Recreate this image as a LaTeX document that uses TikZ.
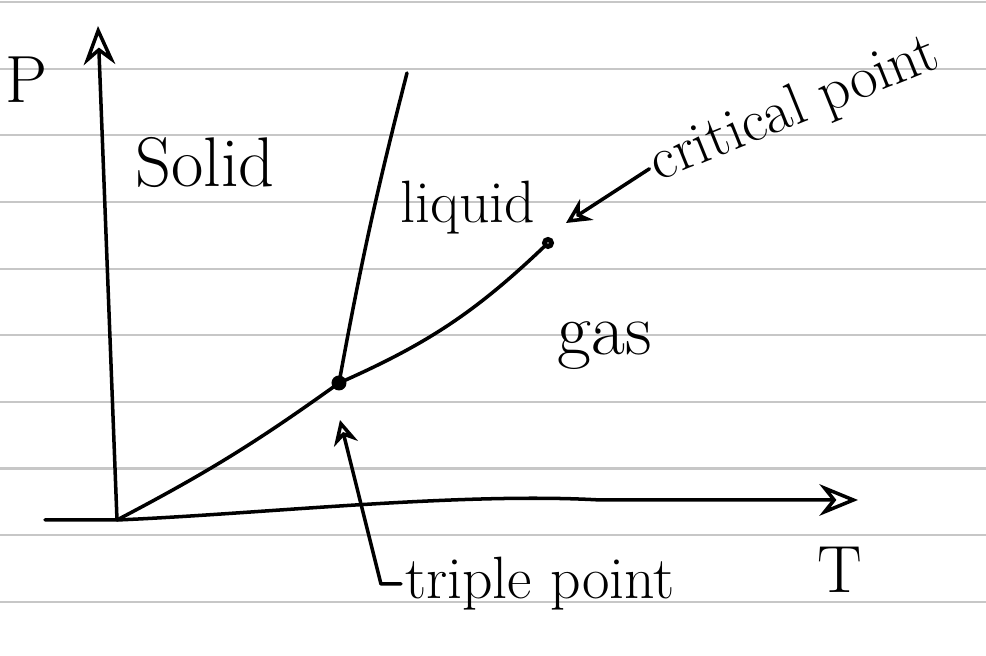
\documentclass[tikz,border=0pt]{standalone}
\usepackage{tikz}
\usetikzlibrary{arrows.meta}
\begin{document}
\begin{tikzpicture}[ink/.style={line width=1pt, line cap=round, line join=round},
    axis/.style={ink, -{Stealth[open, length=11pt, width=9pt]}},
    pointer/.style={ink, -{Stealth[open, length=7pt, width=7pt]}},
    hand/.style={font=\fontsize{17}{19}\selectfont, inner sep=1pt}]
    \useasboundingbox (0,0) rectangle (9.86,6.56);
    \foreach \i in {0,...,9} \draw[black!22, line width=0.6pt] (0,6.54-0.6665*\i) -- (9.86,6.54-0.6665*\i);

    \coordinate (Tstart) at (0.45,1.36);
    \coordinate (O) at (1.17,1.36);
    \coordinate (Ptip) at (0.98,6.30);
    \coordinate (Ttip) at (8.58,1.56);
    \coordinate (tp) at (3.39,2.73);
    \coordinate (melt) at (4.07,5.83);
    \coordinate (cp) at (5.48,4.13);
    \coordinate (cparrow) at (5.66,4.33);
    \coordinate (tparrow) at (3.40,2.36);

    \draw[axis] (O) -- (Ptip);
    \draw[axis] (Tstart) -- (O) .. controls (2.6,1.42) and (4.6,1.64) .. (6,1.56) -- (Ttip);
    \draw[ink] (O) to[bend right=4] (tp);
    \draw[ink] (tp) to[bend left=2] (melt);
    \draw[ink] (tp) to[bend right=10] (cp);
    \fill (tp) circle (0.075);
    \draw[line width=1.4pt, fill=white] (cp) circle (0.035);

    \node[hand, font=\fontsize{19}{21}\selectfont] (Plabel) at (0.26,5.76) {P};
    \node[hand, font=\fontsize{19}{21}\selectfont] (Tlabel) at (8.40,0.86) {T};
    \node[hand, font=\fontsize{20}{22}\selectfont] (solid) at (2.05,4.93) {Solid};
    \node[hand] (liquid) at (4.68,4.48) {liquid};
    \node[hand, font=\fontsize{21}{23}\selectfont] (gas) at (6.05,3.10) {gas};
    \node[hand, rotate=22] (cplabel) at (7.95,5.46) {critical point};
    \node[hand] (tplabel) at (5.40,0.72) {triple point};

    \draw[pointer] (cplabel.west) -- (cparrow);
    \draw[pointer] (tplabel.west) -- ++(-0.2,0) -- (tparrow);
\end{tikzpicture}
\end{document}
